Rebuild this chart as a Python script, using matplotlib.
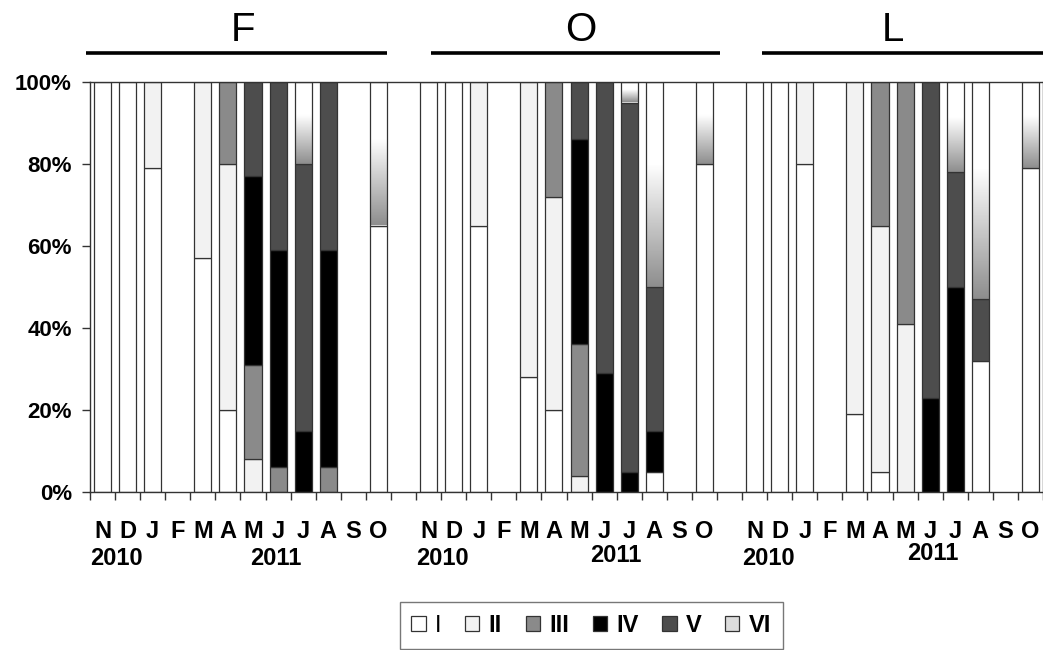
import matplotlib.pyplot as plt
import numpy as np
from matplotlib.colors import LinearSegmentedColormap
from matplotlib.patches import Patch

plt.rcParams['font.family'] = ['Liberation Sans', 'DejaVu Sans']

months = ['N', 'D', 'J', 'F', 'M', 'A', 'M', 'J', 'J', 'A', 'S', 'O']
groups = ['F', 'O', 'L']
stages = ['I', 'II', 'III', 'IV', 'V', 'VI']

# percent of each stage per month, one list of 12 per group
F_vals = {
    'I':   [100, 100, 79, 0, 57, 20, 0, 0, 0, 0, 0, 65],
    'II':  [0, 0, 21, 0, 43, 60, 8, 0, 0, 0, 0, 0],
    'III': [0, 0, 0, 0, 0, 20, 23, 6, 0, 6, 0, 0],
    'IV':  [0, 0, 0, 0, 0, 0, 46, 53, 15, 53, 0, 0],
    'V':   [0, 0, 0, 0, 0, 0, 23, 41, 65, 41, 0, 0],
    'VI':  [0, 0, 0, 0, 0, 0, 0, 0, 20, 0, 0, 35],
}
O_vals = {
    'I':   [100, 100, 65, 0, 28, 20, 0, 0, 0, 5, 0, 80],
    'II':  [0, 0, 35, 0, 72, 52, 4, 0, 0, 0, 0, 0],
    'III': [0, 0, 0, 0, 0, 28, 32, 0, 0, 0, 0, 0],
    'IV':  [0, 0, 0, 0, 0, 0, 50, 29, 5, 10, 0, 0],
    'V':   [0, 0, 0, 0, 0, 0, 14, 71, 90, 35, 0, 0],
    'VI':  [0, 0, 0, 0, 0, 0, 0, 0, 5, 50, 0, 20],
}
L_vals = {
    'I':   [100, 100, 80, 0, 19, 5, 0, 0, 0, 32, 0, 79],
    'II':  [0, 0, 20, 0, 81, 60, 41, 0, 0, 0, 0, 0],
    'III': [0, 0, 0, 0, 0, 35, 59, 0, 0, 0, 0, 0],
    'IV':  [0, 0, 0, 0, 0, 0, 0, 23, 50, 0, 0, 0],
    'V':   [0, 0, 0, 0, 0, 0, 0, 77, 28, 15, 0, 0],
    'VI':  [0, 0, 0, 0, 0, 0, 0, 0, 22, 53, 0, 21],
}

colors = {'I': '#ffffff', 'II': '#f2f2f2', 'III': '#8a8a8a',
          'IV': '#000000', 'V': '#4d4d4d', 'VI': '#dcdcdc'}
grad_cmap = LinearSegmentedColormap.from_list('vi', ['#8e8e8e', '#ffffff'])

fig = plt.figure(figsize=(10.43, 6.5), dpi=100)
ax = fig.add_axes([90 / 1043, 158 / 650, 953 / 1043, 410 / 650])

slot = 13  # 12 months + one empty slot between groups
W = 0.68
edge = '#333333'

for g, data in enumerate([F_vals, O_vals, L_vals]):
    x = np.arange(12) + g * slot
    bottom = np.zeros(12)
    for s in stages:
        v = np.array(data[s], dtype=float)
        m = v > 0
        if s == 'VI':
            ax.bar(x[m], v[m], W, bottom=bottom[m], facecolor='none',
                   edgecolor=edge, linewidth=0.9, zorder=3)
            for xi, b, h in zip(x[m], bottom[m], v[m]):
                ramp = np.clip(np.linspace(0, 1, 200) / 0.6, 0, 1)[:, None]
                ax.imshow(ramp, extent=(xi - W / 2, xi + W / 2, b, b + h),
                          origin='lower', aspect='auto', cmap=grad_cmap,
                          vmin=0, vmax=1, zorder=2)
        else:
            ax.bar(x[m], v[m], W, bottom=bottom[m], color=colors[s],
                   edgecolor=edge, linewidth=0.9, zorder=2)
        bottom += v

n_slots = slot * 2 + 12
ax.set_xlim(-0.5, n_slots - 0.5)
ax.set_ylim(0, 100)

# tick marks at category borders, labels at category centres
ax.set_xticks(np.arange(-0.5, n_slots, 1.0))
ax.set_xticklabels([])
ax.tick_params(axis='x', which='major', direction='out', length=6, width=1, color=edge)
centres = np.concatenate([np.arange(12) + g * slot for g in range(3)])
ax.set_xticks(centres, minor=True)
ax.set_xticklabels(months * 3, minor=True, fontsize=17, fontweight='bold')
ax.tick_params(axis='x', which='minor', length=0, pad=20)

ax.set_yticks(np.arange(0, 101, 20))
ax.set_yticklabels([f'{v}%' for v in range(0, 101, 20)], fontsize=16, fontweight='bold')
ax.tick_params(axis='y', direction='out', length=6, width=1, color=edge, pad=7)

for sp in ax.spines.values():
    sp.set_color(edge)
    sp.set_linewidth(1)

trans = ax.get_xaxis_transform()

# group headers with a line under each
header_lines = [(-0.66, 11.33), (13.09, 24.64), (26.3, 37.6)]
header_x = [5.6, 19.06, 31.5]
for name, (x0, x1), hx in zip(groups, header_lines, header_x):
    ax.plot([x0, x1], [1.071, 1.071], color='black', linewidth=2.6,
            transform=trans, clip_on=False, solid_capstyle='butt')
    ax.text(hx, 1.127, name, transform=trans, ha='center', va='center',
            fontsize=29, fontweight='normal')

# year labels
year_pos = [(0.55, 6.9, -0.163), (13.57, 20.45, -0.163), (26.55, 33.1, -0.163)]
year_y2011 = [-0.163, -0.156, -0.151]
for (x10, x11, y10), y11 in zip(year_pos, year_y2011):
    ax.text(x10, y10, '2010', transform=trans, ha='center', va='center',
            fontsize=17, fontweight='bold')
    ax.text(x11, y11, '2011', transform=trans, ha='center', va='center',
            fontsize=17, fontweight='bold')

handles = [Patch(facecolor=colors[s], edgecolor=edge, linewidth=0.9) for s in stages]
leg = fig.legend(handles, stages, loc='upper center', bbox_to_anchor=(0.567, 0.074),
                 ncol=6, frameon=True, fancybox=False, edgecolor='#555555',
                 handlelength=0.6, handleheight=0.6, handletextpad=0.4,
                 columnspacing=1.0, borderpad=0.5, borderaxespad=0,
                 prop={'size': 17, 'weight': 'bold'})
leg.get_frame().set_linewidth(1)
leg.get_texts()[0].set_fontweight('normal')

fig.savefig('out.png', dpi=100)
